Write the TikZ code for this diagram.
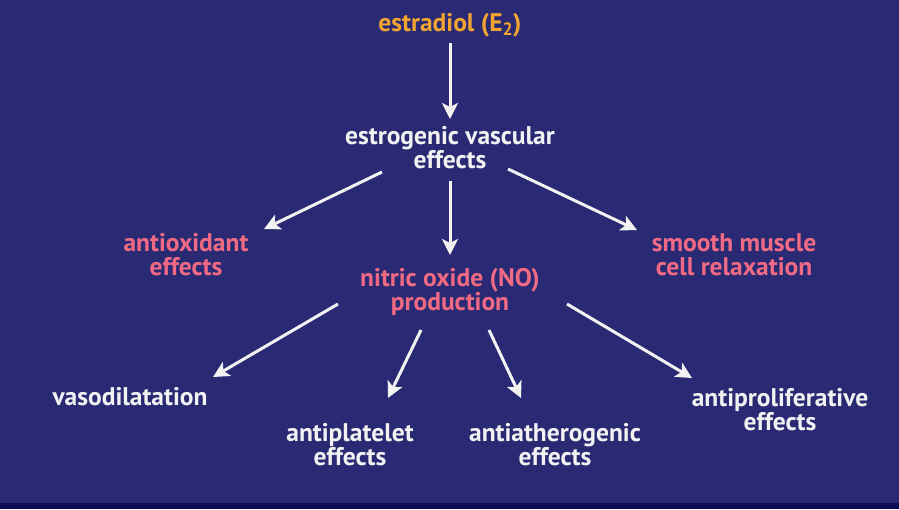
\documentclass[tikz,border=0pt]{standalone}
\usepackage{fontspec}
\setmainfont{PT Sans}
\usetikzlibrary{arrows.meta}
\definecolor{bgblue}{HTML}{2A2A74}
\definecolor{bandblue}{HTML}{0C0C55}
\definecolor{orangetxt}{HTML}{F2A431}
\definecolor{pinktxt}{HTML}{F06A84}
\definecolor{whitetxt}{HTML}{F2F2F2}
\tikzset{
  lbl/.style={align=center, font=\fontsize{25.5}{24}\selectfont\bfseries, inner sep=0pt},
  wlbl/.style={lbl, text=whitetxt},
  plbl/.style={lbl, text=pinktxt},
  olbl/.style={lbl, text=orangetxt},
  arr/.style={draw=whitetxt, line width=3pt, -{Stealth[length=16pt, width=16pt, inset=4pt]}}
}
\begin{document}
\begin{tikzpicture}[x=1pt, y=-1pt]
\fill[bgblue] (0,0) rectangle (899,509);
\fill[bandblue] (0,503) rectangle (899,509);
\useasboundingbox (0,0) rectangle (899,509);

\node[olbl] (e2) at (450,25) {estradiol (E\textsubscript{2})};
\node[wlbl] (eve) at (450,148) {estrogenic vascular\\effects};
\node[plbl] (anti) at (186,255) {antioxidant\\effects};
\node[plbl] (no) at (450,292) {nitric oxide (NO)\\production};
\node[plbl] (smc) at (734,255) {smooth muscle\\cell relaxation};
\node[wlbl] (vaso) at (130,397) {vasodilatation};
\node[wlbl] (plat) at (350,445) {antiplatelet\\effects};
\node[wlbl] (ath) at (555,445) {antiatherogenic\\effects};
\node[wlbl] (prol) at (780,410) {antiproliferative\\effects};

\coordinate (a1s) at (450,43); \coordinate (a1e) at (450,119);
\coordinate (a2s) at (382,172); \coordinate (a2e) at (264,229);
\coordinate (a3s) at (450,181); \coordinate (a3e) at (450,255);
\coordinate (a4s) at (508,169); \coordinate (a4e) at (637,230);
\coordinate (a5s) at (338,304); \coordinate (a5e) at (213,377);
\coordinate (a6s) at (421,330); \coordinate (a6e) at (388,398);
\coordinate (a7s) at (489,330); \coordinate (a7e) at (521,398);
\coordinate (a8s) at (567,304); \coordinate (a8e) at (692,378);

\draw[arr] (a1s) -- (a1e);
\draw[arr] (a2s) -- (a2e);
\draw[arr] (a3s) -- (a3e);
\draw[arr] (a4s) -- (a4e);
\draw[arr] (a5s) -- (a5e);
\draw[arr] (a6s) -- (a6e);
\draw[arr] (a7s) -- (a7e);
\draw[arr] (a8s) -- (a8e);
\end{tikzpicture}
\end{document}
